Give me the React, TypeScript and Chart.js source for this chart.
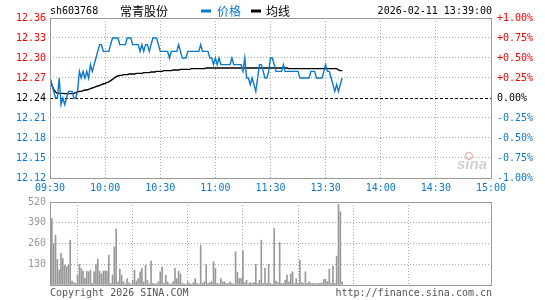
import React, { useEffect, useRef } from 'react';
import { Chart, registerables } from 'chart.js';

Chart.register(...registerables);

const stockCode = 'sh603768';
const stockName = '常青股份';
const legendPrice = '价格';
const legendAvg = '均线';
const timestamp = '2026-02-11 13:39:00';
const copyrightLeft = 'Copyright 2026 SINA.COM';
const copyrightRight = 'http://finance.sina.com.cn';
const watermark = 'sina';

const prevClose = 12.24;
const priceTicks = [12.12, 12.15, 12.18, 12.21, 12.24, 12.27, 12.3, 12.33, 12.36];
const pctLabels = ['-1.00%', '-0.75%', '-0.50%', '-0.25%', '0.00%', '+0.25%', '+0.50%', '+0.75%', '+1.00%'];
const timeTickMinutes = [0, 30, 60, 90, 120, 150, 180, 210, 240];
const timeLabels = ['09:30', '10:00', '10:30', '11:00', '11:30', '13:30', '14:00', '14:30', '15:00'];
const volumeTicks = [0, 130, 260, 390, 520];

const prices = [
  12.27, 12.26, 12.25, 12.24, 12.24, 12.27, 12.23, 12.24, 12.23, 12.24,
  12.25, 12.25, 12.25, 12.24, 12.24, 12.25, 12.28, 12.27, 12.28, 12.27,
  12.28, 12.27, 12.29, 12.28, 12.29, 12.30, 12.31, 12.32, 12.32, 12.31,
  12.31, 12.31, 12.31, 12.32, 12.33, 12.33, 12.33, 12.33, 12.32, 12.32,
  12.32, 12.32, 12.33, 12.33, 12.33, 12.32, 12.32, 12.32, 12.32, 12.31,
  12.32, 12.31, 12.32, 12.32, 12.31, 12.32, 12.33, 12.33, 12.33, 12.32,
  12.31, 12.31, 12.31, 12.31, 12.31, 12.30, 12.31, 12.31, 12.31, 12.31,
  12.32, 12.31, 12.30, 12.30, 12.30, 12.31, 12.31, 12.31, 12.31, 12.31,
  12.31, 12.31, 12.32, 12.31, 12.31, 12.31, 12.31, 12.30, 12.30, 12.29,
  12.30, 12.29, 12.30, 12.29, 12.29, 12.29, 12.29, 12.29, 12.29, 12.30,
  12.29, 12.29, 12.29, 12.29, 12.29, 12.28, 12.30, 12.27, 12.27, 12.26,
  12.27, 12.26, 12.25, 12.27, 12.29, 12.29, 12.28, 12.27, 12.27, 12.28,
  12.30, 12.30, 12.29, 12.28, 12.28, 12.28, 12.28, 12.29, 12.28, 12.28,
  12.28, 12.28, 12.28, 12.28, 12.28, 12.28, 12.27, 12.27, 12.27, 12.27,
  12.27, 12.27, 12.28, 12.28, 12.28, 12.27, 12.27, 12.27, 12.27, 12.28,
  12.29, 12.28, 12.28, 12.27, 12.26, 12.25, 12.26, 12.25, 12.26, 12.27,
];

const avgPrices = [
  12.270, 12.260, 12.253, 12.249, 12.247, 12.247, 12.247, 12.247, 12.2465, 12.2465,
  12.2465, 12.2465, 12.2465, 12.247, 12.248, 12.249, 12.250, 12.250, 12.251, 12.252,
  12.252, 12.253, 12.254, 12.255, 12.256, 12.257, 12.258, 12.259, 12.260, 12.261,
  12.262, 12.263, 12.264, 12.266, 12.268, 12.270, 12.272, 12.273, 12.274, 12.274,
  12.275, 12.275, 12.275, 12.276, 12.276, 12.276, 12.276, 12.277, 12.277, 12.277,
  12.277, 12.278, 12.278, 12.278, 12.278, 12.279, 12.279, 12.279, 12.280, 12.280,
  12.280, 12.280, 12.281, 12.281, 12.281, 12.281, 12.281, 12.282, 12.282, 12.282,
  12.282, 12.283, 12.283, 12.283, 12.283, 12.283, 12.283, 12.284, 12.284, 12.284,
  12.284, 12.284, 12.284, 12.284, 12.284, 12.285, 12.285, 12.285, 12.285, 12.285,
  12.285, 12.285, 12.285, 12.285, 12.285, 12.285, 12.285, 12.285, 12.285, 12.285,
  12.285, 12.285, 12.285, 12.285, 12.285, 12.285, 12.285, 12.285, 12.285, 12.285,
  12.285, 12.285, 12.285, 12.285, 12.285, 12.285, 12.285, 12.285, 12.285, 12.285,
  12.285, 12.285, 12.285, 12.285, 12.285, 12.285, 12.285, 12.285, 12.285, 12.285,
  12.284, 12.284, 12.284, 12.284, 12.284, 12.284, 12.284, 12.284, 12.284, 12.284,
  12.284, 12.284, 12.284, 12.284, 12.284, 12.284, 12.284, 12.284, 12.284, 12.284,
  12.284, 12.284, 12.284, 12.284, 12.284, 12.284, 12.284, 12.282, 12.281, 12.281,
];

const volumes = [
  520, 416, 260, 312, 160, 94, 198, 166, 125, 114,
  125, 281, 25, 15, 10, 60, 129, 104, 87, 42,
  87, 83, 94, 10, 83, 131, 162, 87, 69, 87,
  89, 87, 187, 10, 62, 239, 351, 20, 100, 62,
  20, 8, 40, 15, 5, 30, 94, 25, 40, 83,
  104, 20, 125, 30, 8, 150, 10, 5, 8, 20,
  83, 114, 10, 60, 20, 8, 5, 20, 104, 40,
  87, 70, 10, 5, 5, 20, 10, 5, 15, 40,
  10, 5, 250, 10, 20, 129, 10, 15, 20, 146,
  104, 10, 8, 40, 20, 20, 8, 10, 20, 10,
  5, 208, 80, 40, 40, 214, 15, 30, 8, 15,
  10, 15, 129, 10, 30, 281, 10, 104, 10, 129,
  10, 5, 354, 25, 15, 266, 10, 10, 30, 62,
  20, 69, 83, 10, 40, 10, 156, 15, 10, 83,
  10, 20, 10, 10, 8, 8, 10, 10, 12, 35,
  35, 20, 100, 10, 119, 10, 181, 505, 458, 20,
];

const RED = '#ff0000';
const BLUE = '#0a78cc';
const GRAY = '#999999';
const GRID = '#a8a8a8';
const MONO = '"DejaVu Sans Mono", "Liberation Mono", monospace';
const CJK = '"Noto Sans CJK SC", "Noto Sans", sans-serif';

const near = (a: number, b: number) => Math.abs(a - b) < 1e-6;

const framePlugin = {
  id: 'frame',
  afterDatasetsDraw(chart: any) {
    const { ctx, chartArea: a } = chart;
    ctx.save();
    ctx.strokeStyle = GRAY;
    ctx.lineWidth = 1;
    ctx.strokeRect(Math.round(a.left) + 0.5, Math.round(a.top) + 0.5, Math.round(a.right - a.left), Math.round(a.bottom - a.top));
    ctx.restore();
  },
};

const pricePlugin = {
  id: 'priceDecor',
  beforeDatasetsDraw(chart: any) {
    const { ctx, chartArea: a, scales } = chart;
    const y = Math.round(scales.y.getPixelForValue(prevClose)) + 0.5;
    ctx.save();
    ctx.strokeStyle = '#000';
    ctx.lineWidth = 1;
    ctx.setLineDash([3, 2]);
    ctx.beginPath();
    ctx.moveTo(a.left, y);
    ctx.lineTo(a.right, y);
    ctx.stroke();
    ctx.setLineDash([]);
    // watermark
    ctx.fillStyle = '#cfcfcf';
    ctx.font = 'italic bold 15px "Liberation Sans", sans-serif';
    ctx.textBaseline = 'alphabetic';
    ctx.textAlign = 'left';
    ctx.fillText(watermark, 457, 169);
    ctx.strokeStyle = '#f2b8b8';
    ctx.lineWidth = 1.5;
    ctx.beginPath();
    ctx.arc(469, 156, 3.5, 0, Math.PI * 2);
    ctx.stroke();
    ctx.restore();
  },
  afterDraw(chart: any) {
    const { ctx } = chart;
    ctx.save();
    ctx.textBaseline = 'middle';
    ctx.textAlign = 'left';
    ctx.font = `10px ${MONO}`;
    ctx.fillStyle = '#000';
    ctx.fillText(stockCode, 50, 11.5);
    ctx.font = `12px ${CJK}`;
    ctx.fillText(stockName, 120, 11.5);
    ctx.fillStyle = BLUE;
    ctx.fillRect(201, 9.5, 10, 3);
    ctx.fillText(legendPrice, 217, 11.5);
    ctx.fillStyle = '#000';
    ctx.fillRect(251, 9.5, 10, 3);
    ctx.fillText(legendAvg, 266, 11.5);
    ctx.font = `10px ${MONO}`;
    ctx.textAlign = 'right';
    ctx.fillText(timestamp, 492, 11.5);
    ctx.restore();
  },
};

const volumePlugin = {
  id: 'volDecor',
  afterDraw(chart: any) {
    const { ctx, chartArea: a } = chart;
    ctx.save();
    ctx.font = `10px ${MONO}`;
    ctx.fillStyle = '#555';
    ctx.textBaseline = 'middle';
    ctx.textAlign = 'left';
    ctx.fillText(copyrightLeft, a.left, a.bottom + 8.5);
    ctx.textAlign = 'right';
    ctx.fillText(copyrightRight, a.right + 1, a.bottom + 8.5);
    ctx.restore();
  },
};

const tickFont = { family: MONO, size: 10 };

export default function App() {
  const priceRef = useRef<HTMLCanvasElement>(null);
  const volRef = useRef<HTMLCanvasElement>(null);

  useEffect(() => {
    const priceColor = (v: number) => (v > prevClose + 1e-6 ? RED : v < prevClose - 1e-6 ? BLUE : '#000');

    const priceChart = new Chart(priceRef.current as HTMLCanvasElement, {
      type: 'line',
      data: {
        datasets: [
          {
            label: legendPrice,
            data: prices.map((y, i) => ({ x: i, y })),
            borderColor: BLUE,
            borderWidth: 1.4,
            pointRadius: 0,
            tension: 0,
          },
          {
            label: legendAvg,
            data: avgPrices.map((y, i) => ({ x: i, y })),
            borderColor: '#000',
            borderWidth: 1.4,
            pointRadius: 0,
            tension: 0,
          },
        ],
      },
      options: {
        animation: false,
        responsive: false,
        maintainAspectRatio: false,
        layout: { padding: { top: 18, left: 0, right: 0, bottom: 0 } },
        plugins: { legend: { display: false }, tooltip: { enabled: false } },
        scales: {
          x: {
            type: 'linear',
            min: 0,
            max: 240,
            afterBuildTicks: (s: any) => {
              s.ticks = timeTickMinutes.map((v) => ({ value: v }));
            },
            afterFit: (s: any) => {
              s.height = 22;
            },
            ticks: {
              autoSkip: false,
              maxRotation: 0,
              padding: 4,
              color: BLUE,
              font: tickFont,
              callback: (_v: any, i: number) => timeLabels[i],
            },
            grid: {
              drawTicks: false,
              color: (c: any) => (c.tick && (c.tick.value === 0 || c.tick.value === 240) ? 'transparent' : GRID),
            },
            border: { display: false, dash: [1, 2] },
          },
          y: {
            position: 'left',
            min: 12.12,
            max: 12.36,
            afterBuildTicks: (s: any) => {
              s.ticks = priceTicks.map((v) => ({ value: v }));
            },
            afterFit: (s: any) => {
              s.width = 50;
            },
            ticks: {
              padding: 4,
              font: tickFont,
              color: (c: any) => priceColor(c.tick.value),
              callback: (v: any) => Number(v).toFixed(2),
            },
            grid: {
              drawTicks: false,
              color: (c: any) =>
                c.tick && (near(c.tick.value, 12.12) || near(c.tick.value, 12.36) || near(c.tick.value, prevClose))
                  ? 'transparent'
                  : GRID,
            },
            border: { display: false, dash: [1, 2] },
          },
          y2: {
            position: 'right',
            min: 12.12,
            max: 12.36,
            afterBuildTicks: (s: any) => {
              s.ticks = priceTicks.map((v) => ({ value: v }));
            },
            afterFit: (s: any) => {
              s.width = 54;
            },
            ticks: {
              padding: 6,
              font: tickFont,
              color: (c: any) => priceColor(c.tick.value),
              callback: (_v: any, i: number) => pctLabels[i],
            },
            grid: { display: false, drawTicks: false },
            border: { display: false },
          },
        },
      },
      plugins: [pricePlugin, framePlugin],
    } as any);

    const volChart = new Chart(volRef.current as HTMLCanvasElement, {
      type: 'bar',
      data: {
        datasets: [
          {
            label: 'volume',
            data: volumes.map((y, i) => ({ x: i, y })),
            backgroundColor: GRAY,
            barThickness: 1,
            borderWidth: 0,
          },
        ],
      },
      options: {
        animation: false,
        responsive: false,
        maintainAspectRatio: false,
        layout: { padding: { top: 12, left: 0, right: 54, bottom: 15 } },
        plugins: { legend: { display: false }, tooltip: { enabled: false } },
        scales: {
          x: {
            type: 'linear',
            min: 0,
            max: 240,
            offset: false,
            afterBuildTicks: (s: any) => {
              s.ticks = timeTickMinutes.map((v) => ({ value: v }));
            },
            afterFit: (s: any) => {
              s.height = 0;
            },
            ticks: { display: false },
            grid: {
              drawTicks: false,
              color: (c: any) => (c.tick && (c.tick.value === 0 || c.tick.value === 240) ? 'transparent' : GRID),
            },
            border: { display: false, dash: [1, 2] },
          },
          y: {
            position: 'left',
            min: 0,
            max: 520,
            afterBuildTicks: (s: any) => {
              s.ticks = volumeTicks.map((v) => ({ value: v }));
            },
            afterFit: (s: any) => {
              s.width = 50;
            },
            ticks: {
              padding: 4,
              font: tickFont,
              color: GRAY,
              callback: (v: any) => (v === 0 ? '' : String(v)),
            },
            grid: {
              drawTicks: false,
              color: (c: any) => (c.tick && (c.tick.value === 0 || c.tick.value === 520) ? 'transparent' : GRID),
            },
            border: { display: false, dash: [1, 2] },
          },
        },
      },
      plugins: [framePlugin, volumePlugin],
    } as any);

    return () => {
      priceChart.destroy();
      volChart.destroy();
    };
  }, []);

  return (
    <div style={{ position: 'absolute', left: 0, top: 0, width: 545, height: 300, background: '#fff' }}>
      <canvas ref={priceRef} width={545} height={200} style={{ position: 'absolute', left: 0, top: 0, width: 545, height: 200 }} />
      <canvas ref={volRef} width={545} height={110} style={{ position: 'absolute', left: 0, top: 190, width: 545, height: 110 }} />
    </div>
  );
}
